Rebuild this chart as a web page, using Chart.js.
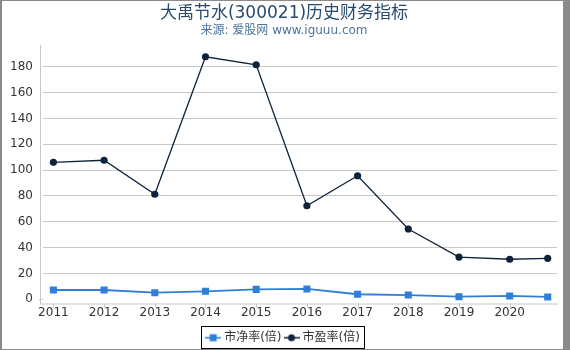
<!DOCTYPE html>
<html><head><meta charset="utf-8">
<script src="https://cdn.jsdelivr.net/npm/chart.js@4/dist/chart.umd.min.js"></script>
<style>
html,body{margin:0;padding:0;background:#fff;}
#frame{position:absolute;left:0;top:0;width:570px;height:350px;background:#fff;box-sizing:border-box;border-left:2px solid #8a8a8a;border-top:1px solid #8a8a8a;border-right:7px solid #8a8a8a;border-bottom:1px solid #8a8a8a;}
#wrap{position:absolute;left:2px;top:1px;width:561px;height:348px;}
</style></head><body>
<div id="frame"></div>
<div id="wrap"><canvas id="c" width="561" height="348"></canvas></div>
<script>
const titleText = '大禹节水(300021)历史财务指标';
const subtitleText = '来源: 爱股网 www.iguuu.com';
const periods = [2011, 2012, 2013, 2014, 2015, 2016, 2017, 2018, 2019, 2020, 2020.75];
const pbValues = [7.2, 7.2, 5.1, 6.2, 7.7, 8.0, 3.9, 3.3, 2.0, 2.6, 1.8];
const peValues = [106.0, 107.6, 81.3, 187.7, 181.5, 72.4, 95.6, 54.4, 32.7, 31.0, 31.7];
const seriesNames = ['市净率(倍)', '市盈率(倍)'];
const xTickYears = [2011, 2012, 2013, 2014, 2015, 2016, 2017, 2018, 2019, 2020];
const yTickValues = [0, 20, 40, 60, 80, 100, 120, 140, 160, 180];

const PB_COLOR = '#2f7ed8';
const PE_COLOR = '#0d233a';
const FONT = '"DejaVu Sans", "Noto Sans CJK SC", sans-serif';
Chart.defaults.font.family = FONT;

function makeIcon(color, shape) {
  const cv = document.createElement('canvas');
  cv.width = 16; cv.height = 10;
  const g = cv.getContext('2d');
  g.strokeStyle = color; g.lineWidth = 1.5;
  g.beginPath(); g.moveTo(0, 5); g.lineTo(16, 5); g.stroke();
  g.fillStyle = color;
  if (shape === 'rect') { g.fillRect(4.5, 1.5, 7, 7); }
  else { g.beginPath(); g.arc(8, 5, 3.5, 0, Math.PI * 2); g.fill(); }
  return cv;
}
const icons = [makeIcon(PB_COLOR, 'rect'), makeIcon(PE_COLOR, 'circle')];

const axisPlugin = {
  id: 'axisLines',
  beforeDatasetsDraw(chart) {
    const {ctx, chartArea: a, scales} = chart;
    ctx.save();
    ctx.strokeStyle = '#c0c8d0';
    ctx.lineWidth = 1;
    ctx.beginPath();
    ctx.moveTo(a.left - 2.5, a.top);
    ctx.lineTo(a.left - 2.5, a.bottom + 0.5);
    ctx.moveTo(a.left - 3, a.bottom + 0.5);
    ctx.lineTo(a.right + 1, a.bottom + 0.5);
    const y0 = Math.round(scales.y.getPixelForValue(0)) + 0.5;
    ctx.moveTo(a.left - 4, y0); ctx.lineTo(a.left, y0);
    xTickYears.forEach(v => {
      const px = Math.round(scales.x.getPixelForValue(v)) + 0.5;
      ctx.moveTo(px, a.bottom); ctx.lineTo(px, a.bottom + 4);
    });
    ctx.stroke();
    ctx.restore();
  },
  afterDraw(chart) {
    const hb = chart.legend && chart.legend.legendHitBoxes;
    if (!hb || !hb.length) return;
    const ctx = chart.ctx;
    const last = hb[hb.length - 1];
    const l = Math.round(hb[0].left - 7) + 0.5;
    const r = Math.round(last.left + last.width + 4) + 0.5;
    const t = Math.round(hb[0].top - 5.7) + 0.5;
    const b = Math.round(hb[0].top + 15.8) + 0.5;
    ctx.save();
    ctx.strokeStyle = '#000';
    ctx.lineWidth = 1;
    ctx.strokeRect(l, t, r - l, b - t);
    ctx.restore();
  }
};

new Chart(document.getElementById('c'), {
  type: 'line',
  data: {
    datasets: [
      {
        label: seriesNames[0],
        data: periods.map((x, i) => ({x, y: pbValues[i]})),
        borderColor: PB_COLOR, backgroundColor: PB_COLOR,
        borderWidth: 1.8, pointStyle: 'rect', pointRadius: 5, pointBorderWidth: 0,
        pointBackgroundColor: PB_COLOR, tension: 0
      },
      {
        label: seriesNames[1],
        data: periods.map((x, i) => ({x, y: peValues[i]})),
        borderColor: PE_COLOR, backgroundColor: PE_COLOR,
        borderWidth: 1.3, pointStyle: 'circle', pointRadius: 3.6, pointBorderWidth: 0,
        pointBackgroundColor: PE_COLOR, tension: 0
      }
    ]
  },
  options: {
    responsive: false,
    animation: false,
    layout: {padding: {left: 9, right: 6, top: 0, bottom: 0}},
    scales: {
      x: {
        type: 'linear', min: 2010.795, max: 2020.933,
        afterBuildTicks: s => { s.ticks = xTickYears.map(v => ({value: v})); },
        afterFit: s => { s.height = 23.2; },
        grid: {display: false, drawTicks: false},
        border: {display: false},
        ticks: {padding: 1.8, color: '#333', font: {size: 12}, maxRotation: 0, autoSkip: false, callback: v => String(v)}
      },
      y: {
        type: 'linear', min: -3.25, max: 196.8,
        afterBuildTicks: s => { s.ticks = yTickValues.map(v => ({value: v})); },
        afterFit: s => { s.width = 32; },
        grid: {drawTicks: false, color: c => (c.tick && c.tick.value === 0) ? 'rgba(0,0,0,0)' : '#c8c8c8'},
        border: {display: false},
        ticks: {padding: 10, color: '#333', font: {size: 12}, callback: v => String(v)}
      }
    },
    plugins: {
      title: {display: true, text: titleText, color: '#274b6d', font: {size: 17, weight: 'normal'}, padding: {top: 2.3, bottom: 0}},
      subtitle: {display: true, text: subtitleText, color: '#4d759e', font: {size: 12, weight: 'normal'}, padding: {top: 0, bottom: 6.9}},
      legend: {
        display: true, position: 'bottom', maxHeight: 22.3,
        labels: {
          usePointStyle: true, pointStyleWidth: 10, padding: 5, color: '#333', font: {size: 12},
          generateLabels: chart => {
            const items = Chart.defaults.plugins.legend.labels.generateLabels(chart);
            items.forEach((it, i) => { it.pointStyle = icons[i]; });
            return items;
          }
        }
      },
      tooltip: {enabled: false}
    }
  },
  plugins: [axisPlugin]
});
</script>
</body></html>
